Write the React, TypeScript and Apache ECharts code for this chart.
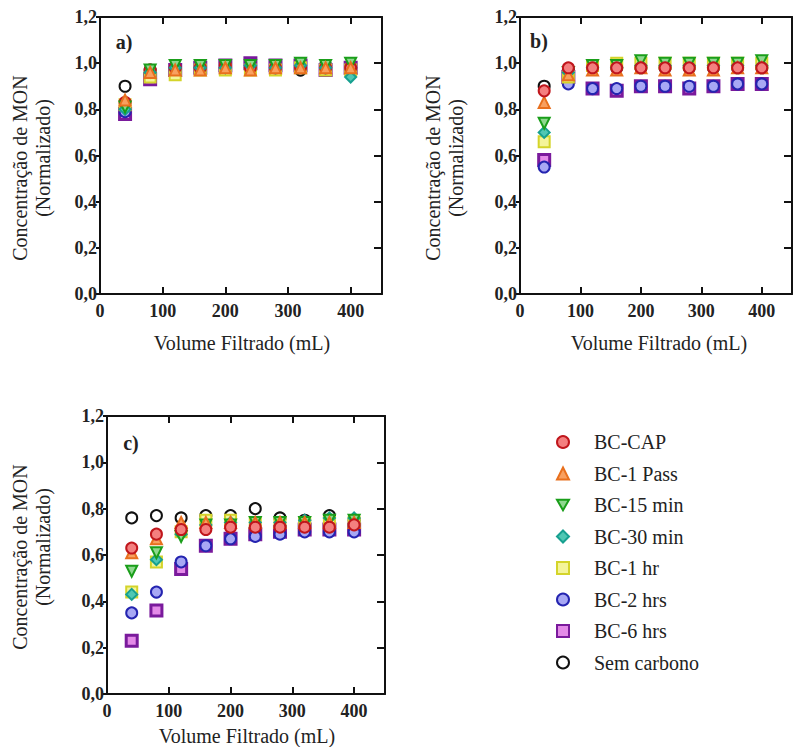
import React, { useEffect, useRef } from "react";
import * as echarts from "echarts";

// ---------- DATA ----------
const volumes = [40, 80, 120, 160, 200, 240, 280, 320, 360, 400];
const seriesNames = ["BC-CAP", "BC-1 Pass", "BC-15 min", "BC-30 min", "BC-1 hr", "BC-2 hrs", "BC-6 hrs", "Sem carbono"];
const panelLabels = ["a)", "b)", "c)"];

// panel a
const aCAP = [0.83, 0.97, 0.98, 0.98, 0.99, 0.98, 0.98, 0.98, 0.98, 0.98];
const a1Pass = [0.84, 0.96, 0.97, 0.97, 0.98, 0.97, 0.98, 0.98, 0.98, 0.98];
const a15min = [0.81, 0.97, 0.99, 0.99, 0.99, 0.99, 0.99, 1.0, 0.99, 1.0];
const a30min = [0.8, 0.96, 0.98, 0.98, 0.98, 0.99, 0.98, 0.99, 0.98, 0.94];
const a1hr = [0.82, 0.94, 0.95, 0.97, 0.97, 0.97, 0.97, 0.98, 0.97, 0.97];
const a2hrs = [0.79, 0.95, 0.97, 0.98, 0.98, 0.99, 0.98, 0.99, 0.98, 0.98];
const a6hrs = [0.78, 0.93, 0.97, 0.98, 0.99, 1.0, 0.99, 0.99, 0.97, 0.98];
const aSem = [0.9, 0.97, 0.98, 0.98, 0.98, 0.98, 0.98, 0.97, 0.99, 0.98];

// panel b
const bCAP = [0.88, 0.98, 0.98, 0.98, 0.98, 0.98, 0.98, 0.98, 0.98, 0.98];
const b1Pass = [0.83, 0.95, 0.97, 0.97, 0.98, 0.97, 0.97, 0.97, 0.98, 0.98];
const b15min = [0.74, 0.96, 0.99, 0.99, 1.01, 1.0, 1.0, 1.0, 1.0, 1.01];
const b30min = [0.7, 0.96, 0.98, 0.98, 0.99, 0.99, 0.99, 0.99, 0.99, 0.99];
const b1hr = [0.66, 0.94, 0.99, 1.0, 1.0, 1.0, 1.0, 1.0, 1.0, 1.0];
const b2hrs = [0.55, 0.91, 0.89, 0.89, 0.9, 0.9, 0.9, 0.9, 0.91, 0.91];
const b6hrs = [0.58, 0.94, 0.89, 0.88, 0.9, 0.9, 0.89, 0.9, 0.91, 0.91];
const bSem = [0.9, 0.97, 0.98, 0.98, 0.98, 0.98, 0.98, 0.98, 0.98, 0.98];

// panel c
const cCAP = [0.63, 0.69, 0.71, 0.71, 0.72, 0.72, 0.72, 0.72, 0.72, 0.73];
const c1Pass = [0.61, 0.67, 0.74, 0.74, 0.74, 0.74, 0.74, 0.74, 0.74, 0.74];
const c15min = [0.53, 0.61, 0.68, 0.73, 0.73, 0.74, 0.74, 0.74, 0.75, 0.75];
const c30min = [0.43, 0.58, 0.69, 0.73, 0.74, 0.74, 0.74, 0.75, 0.76, 0.76];
const c1hr = [0.44, 0.57, 0.7, 0.75, 0.75, 0.74, 0.74, 0.74, 0.74, 0.74];
const c2hrs = [0.35, 0.44, 0.57, 0.64, 0.67, 0.68, 0.69, 0.7, 0.7, 0.7];
const c6hrs = [0.23, 0.36, 0.54, 0.64, 0.67, 0.69, 0.7, 0.71, 0.71, 0.71];
const cSem = [0.76, 0.77, 0.76, 0.77, 0.77, 0.8, 0.76, 0.75, 0.77, 0.75];

const panelData: number[][][] = [
  [aCAP, a1Pass, a15min, a30min, a1hr, a2hrs, a6hrs, aSem],
  [bCAP, b1Pass, b15min, b30min, b1hr, b2hrs, b6hrs, bSem],
  [cCAP, c1Pass, c15min, c30min, c1hr, c2hrs, c6hrs, cSem],
];

// ---------- STYLES ----------
const DOWN_TRI = "path://M0,0L12,0L6,10.4Z";
const seriesStyles = [
  { symbol: "circle", fill: "#f47f7f", stroke: "#c0161c", bw: 2 },
  { symbol: "triangle", fill: "#f8a060", stroke: "#e8701e", bw: 2 },
  { symbol: DOWN_TRI, fill: "#8fd88f", stroke: "#1a9e1a", bw: 2 },
  { symbol: "diamond", fill: "#4fc7b3", stroke: "#17a090", bw: 2 },
  { symbol: "rect", fill: "#f4f49a", stroke: "#d4d42a", bw: 2 },
  { symbol: "circle", fill: "#a8a8f4", stroke: "#2424b0", bw: 2 },
  { symbol: "rect", fill: "#e48ae8", stroke: "#7a1a9c", bw: 3 },
  { symbol: "circle", fill: "#ffffff", stroke: "#111111", bw: 2 },
];
// draw order (indexes into seriesNames), last on top
const drawOrders = [
  [7, 6, 5, 4, 0, 3, 2, 1],
  [7, 6, 5, 4, 3, 2, 1, 0],
  [7, 6, 5, 4, 3, 2, 1, 0],
];

const grids = [
  { left: 100, top: 17, width: 282, height: 277 },
  { left: 520, top: 17, width: 278, height: 277 },
  { left: 107, top: 416, width: 278, height: 278 },
];

const SERIF = "Liberation Serif";

export default function App() {
  const ref = useRef<HTMLDivElement>(null);
  useEffect(() => {
    document.body.style.margin = "0";
    const chart = echarts.init(ref.current!, null, { renderer: "svg" });
    const xAxis: any[] = [];
    const yAxis: any[] = [];
    const series: any[] = [];
    const lineStyle = { color: "#111", width: 2 };
    grids.forEach((g, p) => {
      xAxis.push({
        type: "value", gridIndex: p, min: 0, max: 450, interval: 100, position: "bottom",
        axisLine: { show: true, onZero: false, lineStyle },
        axisTick: { show: true, inside: true, length: 7, lineStyle },
        splitLine: { show: false },
        axisLabel: {
          margin: 8, color: "#222", fontFamily: SERIF, fontSize: 18, fontWeight: "bold",
          formatter: (v: number) => (v > 400 ? "" : String(v)),
        },
      });
      xAxis.push({
        type: "value", gridIndex: p, min: 0, max: 450, interval: 100, position: "top",
        axisLine: { show: true, onZero: false, lineStyle },
        axisTick: { show: true, inside: true, length: 7, lineStyle },
        splitLine: { show: false },
        axisLabel: { show: false },
      });
      yAxis.push({
        type: "value", gridIndex: p, min: 0, max: 1.2, interval: 0.2, position: "left",
        axisLine: { show: true, onZero: false, lineStyle },
        axisTick: { show: true, inside: false, length: 4, lineStyle },
        splitLine: { show: false },
        axisLabel: {
          margin: 3, color: "#222", fontFamily: SERIF, fontSize: 18, fontWeight: "bold",
          formatter: (v: number) => v.toFixed(1).replace(".", ","),
        },
      });
      yAxis.push({
        type: "value", gridIndex: p, min: 0, max: 1.2, interval: 0.2, position: "right",
        axisLine: { show: true, onZero: false, lineStyle },
        axisTick: { show: true, inside: true, length: 8, lineStyle },
        splitLine: { show: false },
        axisLabel: { show: false },
      });
      drawOrders[p].forEach((si, k) => {
        const st = seriesStyles[si];
        series.push({
          type: "scatter",
          name: seriesNames[si],
          xAxisIndex: p * 2,
          yAxisIndex: p * 2,
          z: 2 + k,
          symbol: st.symbol,
          symbolSize: 11,
          itemStyle: { color: st.fill, borderColor: st.stroke, borderWidth: st.bw, opacity: 1 },
          data: volumes.map((x, i) => [x, panelData[p][si][i]]),
        });
      });
    });

    const text = (t: string, x: number, y: number, size: number, bold: boolean, rot: number) => ({
      type: "text",
      x,
      y,
      rotation: rot,
      z: 100,
      style: {
        text: t,
        fill: "#222",
        fontFamily: SERIF,
        fontSize: size,
        fontWeight: bold ? "bold" : "normal",
        align: "center",
        verticalAlign: "middle",
      },
    });
    const R = Math.PI / 2;

    const graphic: any[] = [
      text("Concentração de MON", 20, 168, 20, false, R),
      text("(Normalizado)", 43, 158, 20, false, R),
      text("Concentração de MON", 433, 168, 20, false, R),
      text("(Normalizado)", 456, 158, 20, false, R),
      text("Concentração de MON", 20, 557, 20, false, R),
      text("(Normalizado)", 43, 547, 20, false, R),
      text("Volume Filtrado (mL)", 242, 343, 20, false, 0),
      text("Volume Filtrado (mL)", 659, 343, 20, false, 0),
      text("Volume Filtrado (mL)", 247, 736, 20, false, 0),
      text(panelLabels[0], 124, 42, 20, true, 0),
      text(panelLabels[1], 539, 41, 20, true, 0),
      text(panelLabels[2], 131, 443, 20, true, 0),
    ];

    chart.setOption({
      animation: false,
      backgroundColor: "#ffffff",
      textStyle: { fontFamily: SERIF },
      grid: grids.map((g) => ({ ...g, containLabel: false })),
      xAxis,
      yAxis,
      series,
      graphic,
      legend: {
        data: seriesNames,
        orient: "vertical",
        left: 551,
        top: 427,
        itemWidth: 12,
        itemHeight: 12,
        itemGap: 11.5,
        selectedMode: false,
        textStyle: { fontFamily: SERIF, fontSize: 20, color: "#222", lineHeight: 20, padding: [0, 0, 0, 20] },
      },
    });
    return () => chart.dispose();
  }, []);
  return <div ref={ref} style={{ width: 795, height: 747 }} />;
}
